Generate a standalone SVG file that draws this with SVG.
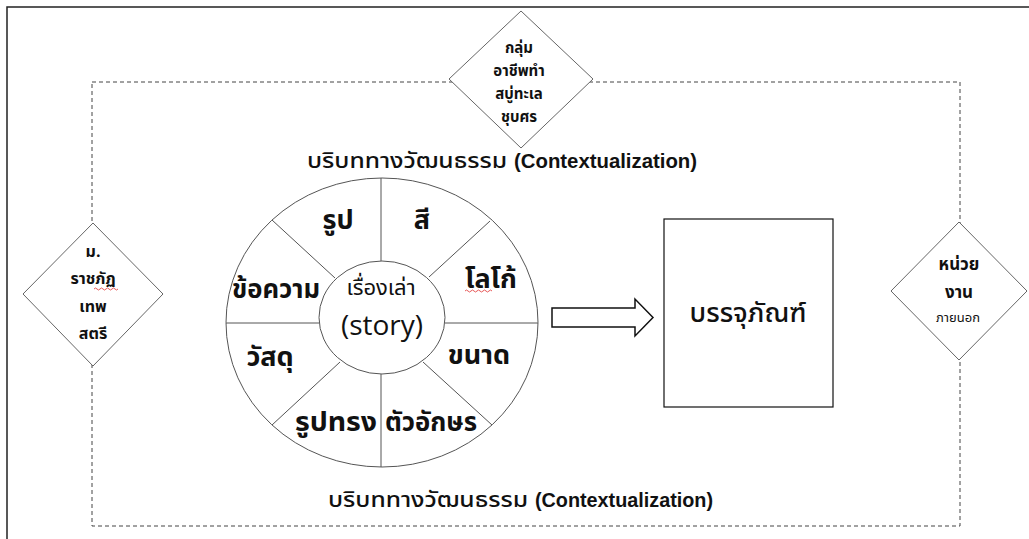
<svg xmlns="http://www.w3.org/2000/svg" width="1029" height="539" viewBox="0 0 1029 539">
<style>
.th{font-family:"Noto Sans Thai","Noto Sans","Liberation Sans",sans-serif;fill:#111}
.b{font-weight:bold}
.en{font-family:"Liberation Sans","Open Sans",sans-serif;font-weight:bold;fill:#111}
.wl{stroke:#555;stroke-width:1;fill:none}
.dia{fill:#fff;stroke:#666;stroke-width:1}
.sq{fill:none;stroke:#e03030;stroke-width:0.8}
</style>
<rect width="1029" height="539" fill="#fff"/>
<g id="frame">
<path d="M7 539 V7 H1029" fill="none" stroke="#222" stroke-width="1.5"/>
</g>
<g id="connectors">
<rect x="92" y="82" width="868" height="444" fill="none" stroke="#444" stroke-width="1" stroke-dasharray="4 3"/>
<path d="M552 308 H635 V299 L653 317.5 L635 336 V327 H552 Z" fill="#fff" stroke="#111" stroke-width="1.5"/>
</g>
<g id="heading-top">
<text class="th" x="307" y="168" font-size="22" font-weight="500" textLength="200" lengthAdjust="spacingAndGlyphs">บริบททางวัฒนธรรม</text>
<text class="en" x="514" y="168" font-size="20" textLength="183" lengthAdjust="spacingAndGlyphs">(Contextualization)</text>
</g>
<g id="heading-bottom">
<text class="th" x="328" y="507" font-size="22" font-weight="500" textLength="200" lengthAdjust="spacingAndGlyphs">บริบททางวัฒนธรรม</text>
<text class="en" x="535" y="507" font-size="20" textLength="178" lengthAdjust="spacingAndGlyphs">(Contextualization)</text>
</g>
<g id="wheel">
<ellipse cx="382" cy="322.5" rx="156" ry="144.5" fill="#fff" stroke="#555" stroke-width="1"/>
<line class="wl" x1="381" y1="178" x2="381" y2="261"/>
<line class="wl" x1="381" y1="374" x2="381" y2="467"/>
<line class="wl" x1="226" y1="323" x2="319" y2="323"/>
<line class="wl" x1="445" y1="323" x2="538" y2="323"/>
<line class="wl" x1="272" y1="220" x2="335" y2="278"/>
<line class="wl" x1="490" y1="221" x2="429" y2="277"/>
<line class="wl" x1="272" y1="425" x2="340" y2="362"/>
<line class="wl" x1="492" y1="425" x2="423" y2="362"/>
<ellipse cx="382" cy="317.5" rx="63" ry="56.5" fill="#fff" stroke="#555" stroke-width="1"/>
</g>
<g id="seg-rup"><text class="th b" x="338" y="229" font-size="27" text-anchor="middle">รูป</text></g>
<g id="seg-si"><text class="th b" x="422" y="229" font-size="27" text-anchor="middle">สี</text></g>
<g id="seg-khokhwam"><text class="th b" x="276" y="298" font-size="26" text-anchor="middle" textLength="88" lengthAdjust="spacingAndGlyphs">ข้อความ</text></g>
<g id="seg-logo"><text class="th b" x="491" y="288" font-size="27" text-anchor="middle">โลโก้</text>
<path class="sq" d="M465 291 q1.5 -2 3 0 t3 0 t3 0 t3 0 t3 0 t3 0 t3 0 t3 0 t3 0"/></g>
<g id="seg-khanat"><text class="th b" x="479" y="364" font-size="27" text-anchor="middle">ขนาด</text></g>
<g id="seg-watsadu"><text class="th b" x="270" y="366" font-size="27" text-anchor="middle">วัสดุ</text></g>
<g id="seg-rupsong"><text class="th b" x="336" y="431" font-size="27" text-anchor="middle" textLength="82" lengthAdjust="spacingAndGlyphs">รูปทรง</text></g>
<g id="seg-tuaakson"><text class="th b" x="431" y="431" font-size="27" text-anchor="middle" textLength="92" lengthAdjust="spacingAndGlyphs">ตัวอักษร</text></g>
<g id="center">
<text class="th" x="381" y="295" font-size="22" text-anchor="middle" fill="#222">เรื่องเล่า</text>
<text x="382" y="335" font-size="28" text-anchor="middle" font-family="Open Sans,Liberation Sans,sans-serif" fill="#111">(story)</text>
</g>
<g id="packaging">
<rect x="664" y="219" width="169" height="188" fill="#fff" stroke="#111" stroke-width="1.2"/>
<text class="th" x="748" y="322" font-size="27" text-anchor="middle" font-weight="500" textLength="117" lengthAdjust="spacingAndGlyphs">บรรจุภัณฑ์</text>
</g>
<g id="node-top">
<polygon class="dia" points="521,11 593,79 521,148 449,79"/>
<text class="th b" font-size="15" text-anchor="middle"><tspan x="519" y="53">กลุ่ม</tspan><tspan x="519" y="76">อาชีพทำ</tspan><tspan x="519" y="99">สบู่ทะเล</tspan><tspan x="519" y="122">ชุบศร</tspan></text>
</g>
<g id="node-left">
<polygon class="dia" points="93,223 163,294 93,366 23,294"/>
<text class="th b" font-size="16" text-anchor="middle"><tspan x="93" y="257">ม.</tspan><tspan x="93" y="284">ราชภัฏ</tspan><tspan x="93" y="312">เทพ</tspan><tspan x="93" y="339">สตรี</tspan></text>
<path class="sq" d="M94 289 q1.5 -2 3 0 t3 0 t3 0 t3 0 t3 0 t3 0 t3 0 t3 0"/>
</g>
<g id="node-right">
<polygon class="dia" points="959,222 1027,291 959,360 891,291"/>
<text class="th b" font-size="17" text-anchor="middle"><tspan x="959" y="270">หน่วย</tspan><tspan x="959" y="298">งาน</tspan></text>
<text class="th" font-size="13" text-anchor="middle" x="958" y="322">ภายนอก</text>
</g>
</svg>
